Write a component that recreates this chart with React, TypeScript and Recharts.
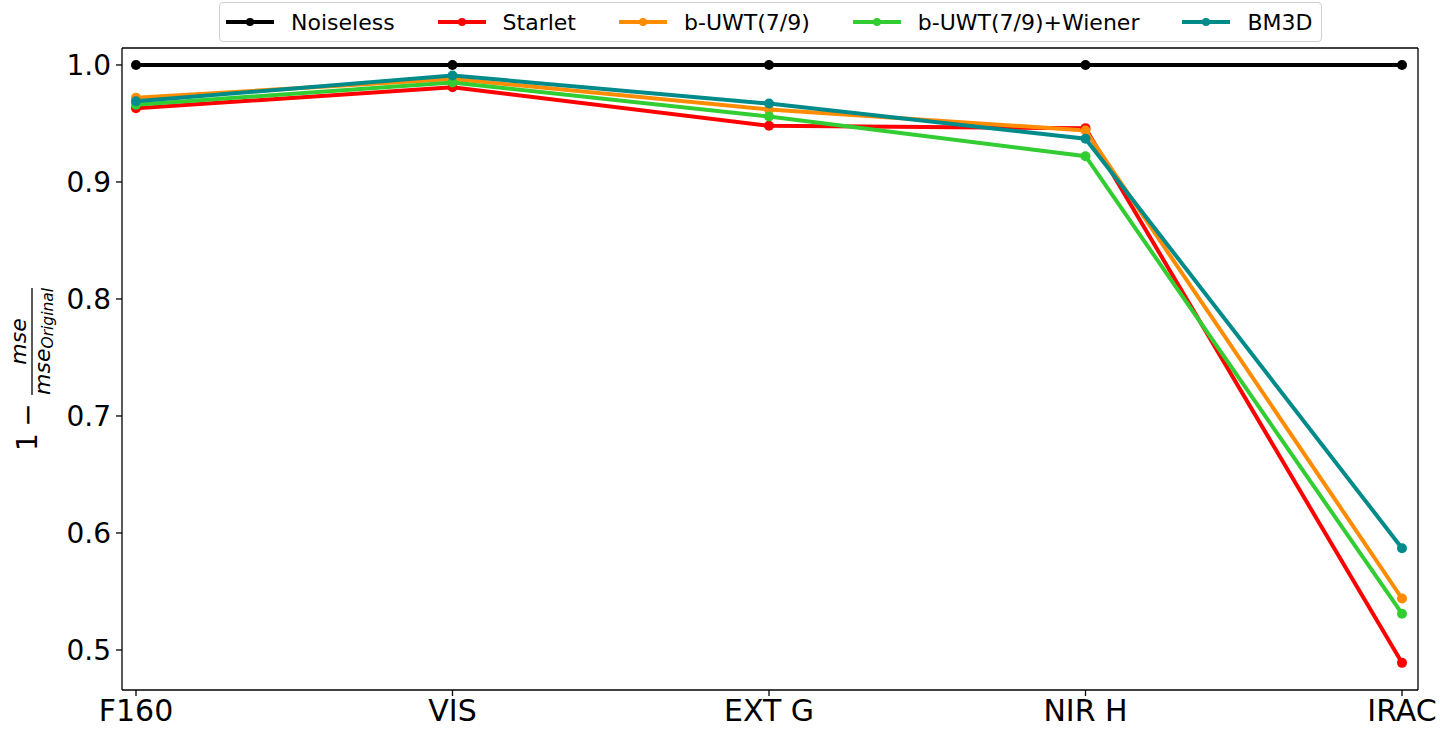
import { LineChart, Line, XAxis, YAxis, CartesianGrid } from 'recharts'

const categories = ['F160', 'VIS', 'EXT G', 'NIR H', 'IRAC']

const noiseless = [1.0, 1.0, 1.0, 1.0, 1.0]
const starlet = [0.963, 0.981, 0.948, 0.946, 0.489]
const buwt = [0.972, 0.988, 0.962, 0.944, 0.544]
const buwtWiener = [0.966, 0.985, 0.956, 0.922, 0.531]
const bm3d = [0.969, 0.991, 0.967, 0.937, 0.587]

const yTicks = [0.5, 0.6, 0.7, 0.8, 0.9, 1.0]

const series = [
  { key: 'noiseless', label: 'Noiseless', color: '#000000', values: noiseless },
  { key: 'starlet', label: 'Starlet', color: '#ff0000', values: starlet },
  { key: 'buwt', label: 'b-UWT(7/9)', color: '#ff8c00', values: buwt },
  { key: 'buwtWiener', label: 'b-UWT(7/9)+Wiener', color: '#32cd32', values: buwtWiener },
  { key: 'bm3d', label: 'BM3D', color: '#008b8b', values: bm3d },
]

const data = categories.map((name, i) => {
  const row: Record<string, string | number> = { name }
  series.forEach((s) => {
    row[s.key] = s.values[i]
  })
  return row
})

const FONT = '"DejaVu Sans", sans-serif'

function YLabel(props: any) {
  const vb = props.viewBox ?? { x: 0, y: 48, width: 122, height: 642 }
  const cx = vb.x + 32
  const cy = vb.y + vb.height / 2
  return (
    <g transform={`translate(${cx}, ${cy}) rotate(-90)`} fontFamily={FONT} fill="#000">
      <text x={-82} y={5} fontSize={28}>1</text>
      <text x={-46} y={5} fontSize={28} textAnchor="middle">−</text>
      <line x1={-26} x2={81} y1={0} y2={0} stroke="#000" strokeWidth={1.3} />
      <text x={27.5} y={-6} fontSize={22} fontStyle="italic" textAnchor="middle">mse</text>
      <text x={-26} y={18} fontSize={22} fontStyle="italic">
        mse
        <tspan fontSize={15.5} dy={3}>Original</tspan>
      </text>
    </g>
  )
}

function LegendBox() {
  return (
    <div
      style={{
        position: 'absolute',
        left: 219,
        top: 2,
        width: 1103,
        height: 40,
        boxSizing: 'border-box',
        border: '1px solid #d0d0d0',
        borderRadius: 4,
        background: 'rgba(255,255,255,0.8)',
        display: 'flex',
        alignItems: 'center',
        paddingLeft: 6,
        fontFamily: FONT,
        fontSize: 22,
        color: '#000',
        whiteSpace: 'nowrap',
      }}
    >
      {series.map((s, i) => (
        <div
          key={s.key}
          style={{ display: 'flex', alignItems: 'center', marginLeft: i === 0 ? 0 : 43 }}
        >
          <svg width={48} height={12} style={{ display: 'block' }}>
            <line x1={0} x2={48} y1={6} y2={6} stroke={s.color} strokeWidth={4} />
            <circle cx={24} cy={6} r={4} fill={s.color} />
          </svg>
          <span style={{ marginLeft: 17 }}>{s.label}</span>
        </div>
      ))}
    </div>
  )
}

export default function App() {
  return (
    <div style={{ position: 'absolute', left: 0, top: 0, width: 1440, height: 742, background: '#fff' }}>
      <LineChart
        width={1440}
        height={742}
        data={data}
        margin={{ top: 48, right: 22, bottom: 0, left: 0 }}
      >
        {/* top and right spines of the box */}
        <CartesianGrid
          stroke="#000"
          strokeWidth={1.3}
          horizontalCoordinatesGenerator={({ offset }: any) => [offset.top]}
          verticalCoordinatesGenerator={({ offset }: any) => [offset.left + offset.width]}
        />
        <XAxis
          dataKey="name"
          height={52}
          padding={{ left: 14, right: 16 }}
          tickSize={6}
          tickMargin={4}
          interval={0}
          axisLine={{ stroke: '#000', strokeWidth: 1.3 }}
          tickLine={{ stroke: '#000', strokeWidth: 1.3 }}
          tick={{ fontSize: 30, fill: '#000', fontFamily: FONT }}
        />
        <YAxis
          type="number"
          width={122}
          domain={[0.4658, 1.0145]}
          ticks={yTicks}
          allowDataOverflow
          tickSize={6}
          tickMargin={5}
          tickFormatter={(v: number) => v.toFixed(1)}
          axisLine={{ stroke: '#000', strokeWidth: 1.3 }}
          tickLine={{ stroke: '#000', strokeWidth: 1.3 }}
          tick={{ fontSize: 28, fill: '#000', fontFamily: FONT }}
          label={<YLabel />}
        />
        {series.map((s) => (
          <Line
            key={s.key}
            type="linear"
            dataKey={s.key}
            name={s.label}
            stroke={s.color}
            strokeWidth={4}
            dot={{ r: 5, fill: s.color, stroke: s.color, strokeWidth: 0 }}
            activeDot={false}
            isAnimationActive={false}
          />
        ))}
      </LineChart>
      <LegendBox />
    </div>
  )
}
